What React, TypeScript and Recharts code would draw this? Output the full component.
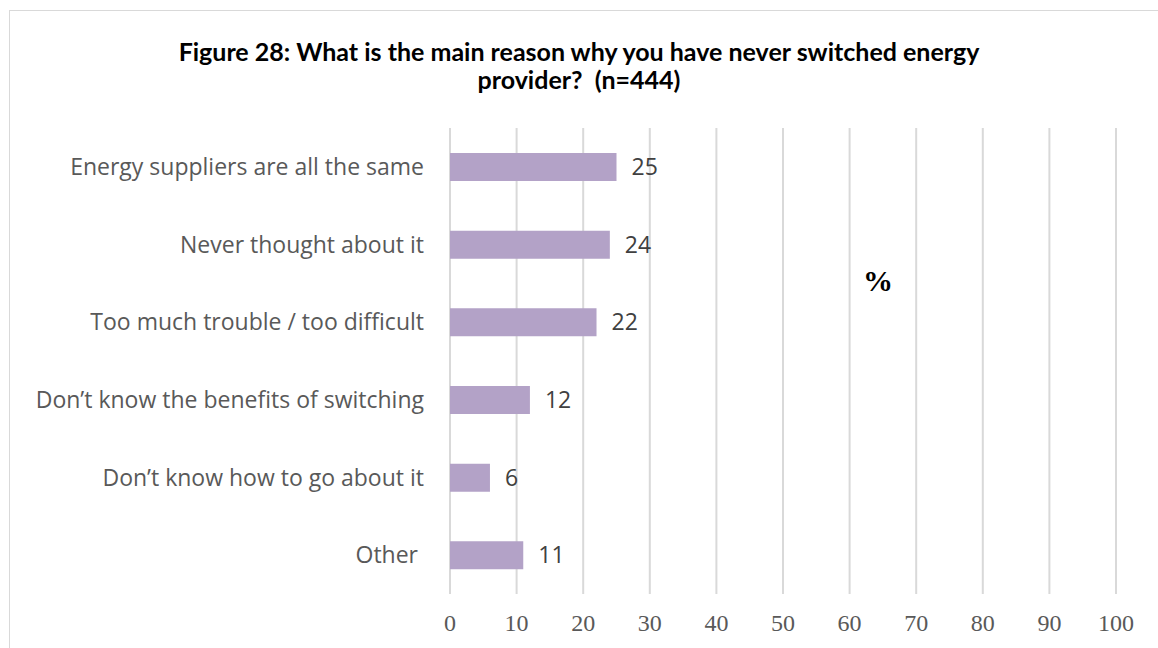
import { BarChart, Bar, XAxis, YAxis, CartesianGrid, LabelList } from 'recharts'

const reasons = [
  'Energy suppliers are all the same',
  'Never thought about it',
  'Too much trouble / too difficult',
  'Don’t know the benefits of switching',
  'Don’t know how to go about it',
  'Other\u00a0',
]
const percents = [25, 24, 22, 12, 6, 11]
const xTicks = [0, 10, 20, 30, 40, 50, 60, 70, 80, 90, 100]

const data = reasons.map((reason, i) => ({ reason, value: percents[i] }))

export default function App() {
  return (
    <div style={{ position: 'absolute', left: 0, top: 0, width: 1158, height: 648, background: '#fff', overflow: 'hidden' }}>
      <div
        style={{
          position: 'absolute',
          left: 9,
          top: 10,
          width: 1160,
          height: 650,
          border: '1px solid #d9d9d9',
        }}
      />
      <div
        style={{
          position: 'absolute',
          left: 0,
          top: 37,
          width: 1158,
          textAlign: 'center',
          fontFamily: 'Lato, sans-serif',
          fontWeight: 700,
          fontSize: 25,
          lineHeight: '28px',
          color: '#000',
        }}
      >
        Figure 28: What is the main reason why you have never switched energy
        <br />
        provider?&nbsp; (n=444)
      </div>
      <div
        style={{
          position: 'absolute',
          left: 863,
          top: 264,
          fontFamily: '"Liberation Serif", serif',
          fontWeight: 700,
          fontSize: 30,
          color: '#000',
        }}
      >
        %
      </div>
      <BarChart
        width={1158}
        height={648}
        data={data}
        layout="vertical"
        margin={{ top: 128, right: 42, bottom: 24, left: 0 }}
        style={{ position: 'absolute', left: 0, top: 0 }}
      >
        <CartesianGrid horizontal={false} stroke="#d9d9d9" strokeWidth={2} />
        <XAxis
          type="number"
          domain={[0, 100]}
          ticks={xTicks}
          axisLine={false}
          tickLine={false}
          tickSize={0}
          tickMargin={20}
          height={30}
          tick={{ fontFamily: '"Liberation Serif", serif', fontSize: 24, fill: '#595959' }}
        />
        <YAxis
          type="category"
          dataKey="reason"
          width={450}
          axisLine={false}
          tickLine={false}
          tickSize={0}
          tickMargin={26}
          tick={{ fontFamily: '"Open Sans", sans-serif', fontSize: 23, fill: '#595959' }}
        />
        <Bar dataKey="value" fill="#b3a2c7" barSize={28} isAnimationActive={false}>
          <LabelList
            dataKey="value"
            position="right"
            offset={15}
            style={{ fontFamily: '"Open Sans", sans-serif', fontSize: 23, fill: '#404040' }}
          />
        </Bar>
      </BarChart>
    </div>
  )
}
